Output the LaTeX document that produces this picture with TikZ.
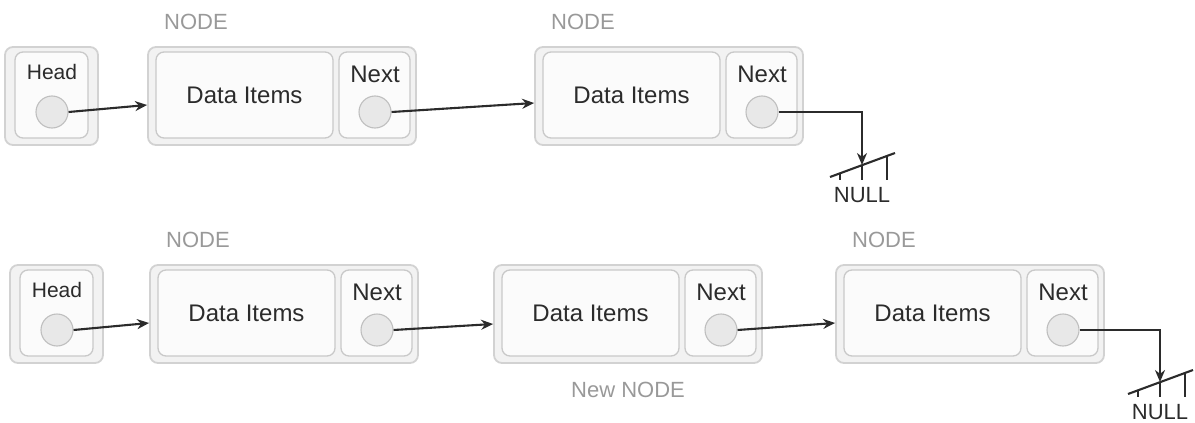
\documentclass[tikz,border=0pt]{standalone}
\usepackage{fontspec}
\setmainfont{Liberation Sans}
\usetikzlibrary{arrows.meta, positioning, calc}

\definecolor{ink}{HTML}{2B2B2B}
\definecolor{lblgray}{HTML}{999999}

\tikzset{
  outerbox/.style={draw=gray!35, fill=gray!10, rounded corners=8pt, line width=1.8pt},
  innerbox/.style={draw=gray!42, fill=gray!3, rounded corners=8pt, line width=1.3pt,
                   text=ink, font=\fontsize{24}{28}\selectfont},
  dot/.style={circle, draw=gray!50, fill=gray!18, minimum size=32pt, inner sep=0pt, line width=1.1pt},
  fieldtxt/.style={text=ink, font=\fontsize{24}{28}\selectfont, inner sep=0pt},
  headtxt/.style={text=ink, font=\fontsize{21}{25}\selectfont, inner sep=0pt},
  nodetxt/.style={text=lblgray, font=\fontsize{22}{26}\selectfont, inner sep=0pt},
  nulltxt/.style={text=ink, font=\fontsize{22}{26}\selectfont, inner sep=0pt},
  ptr/.style={-{Stealth[length=12pt, width=10pt]}, line width=2.1pt, draw=ink},
  gnd/.style={line width=2.1pt, draw=ink}
}

\begin{document}
\begin{tikzpicture}[x=1pt, y=-1pt]
  \useasboundingbox (0,0) rectangle (1195,423);

  % Head cells
  \foreach \k/\L/\T in {1/5/47, 2/10/265} {
    \node[outerbox, minimum width=93pt, minimum height=98pt] (hbox\k) at (\L+46.5, \T+49) {};
    \node[innerbox, minimum width=73pt, minimum height=86pt] (hin\k) at (\L+46.5, \T+48) {};
    \node[headtxt] (htxt\k) at (\L+47, \T+25) {Head};
    \node[dot] (hdot\k) at (\L+47, \T+65) {};
  }

  % List nodes
  \foreach \k/\L/\T in {1/148/47, 2/535/47, 3/150/265, 4/494/265, 5/836/265} {
    \node[outerbox, minimum width=268pt, minimum height=98pt] (box\k) at (\L+134, \T+49) {};
    \node[innerbox, minimum width=177pt, minimum height=86pt] (data\k) at (\L+96.5, \T+48) {Data Items};
    \node[innerbox, minimum width=71pt, minimum height=86pt] (next\k) at (\L+226.5, \T+48) {};
    \node[fieldtxt] (ntxt\k) at (\L+227, \T+27) {Next};
    \node[dot] (dot\k) at (\L+227, \T+65) {};
  }

  % Labels
  \foreach \k in {1, 2, 3, 5} {
    \node[nodetxt] (lbl\k) at ([xshift=-86pt, yshift=74pt]box\k.center) {NODE};
  }
  \node[nodetxt] (lblnew) at ([yshift=-76pt]box4.center) {New NODE};

  % Pointers
  \draw[ptr] (hdot1.east) -- ([yshift=-9pt]box1.west);
  \draw[ptr] (dot1.east) -- ([yshift=-7pt]box2.west);
  \draw[ptr] (hdot2.east) -- ([yshift=-9pt]box3.west);
  \draw[ptr] (dot3.east) -- ([yshift=-10pt]box4.west);
  \draw[ptr] (dot4.east) -- ([yshift=-9pt]box5.west);

  % NULL ends
  \coordinate (g1) at (862, 165);
  \coordinate (g2) at (1160, 382);
  \draw[ptr] (dot2.east) -| (g1);
  \draw[ptr] (dot5.east) -| (g2);
  \foreach \g in {g1, g2} {
    \draw[gnd] ([xshift=-32pt, yshift=-12pt]\g) -- ([xshift=33pt, yshift=12pt]\g);
    \draw[gnd] (\g) -- ++(0,15);
    \draw[gnd] ([xshift=-22pt, yshift=-8pt]\g) -- ++(0,7);
    \draw[gnd] ([xshift=25pt, yshift=9pt]\g) -- ++(0,24);
    \node[nulltxt] (null\g) at ([yshift=-30pt]\g) {NULL};
  }
\end{tikzpicture}
\end{document}
